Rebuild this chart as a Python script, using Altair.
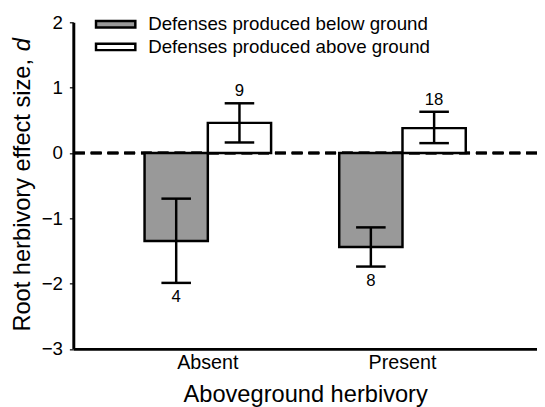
import altair as alt
import pandas as pd

BELOW = "Defenses produced below ground"
ABOVE = "Defenses produced above ground"

groups = ["Absent", "Absent", "Present", "Present"]
series = [BELOW, ABOVE, BELOW, ABOVE]
means = [-1.35, 0.46, -1.44, 0.38]
lower = [-1.99, 0.16, -1.74, 0.15]
upper = [-0.70, 0.76, -1.14, 0.63]
counts = ["4", "9", "8", "18"]
y_ticks = [-3, -2, -1, 0, 1, 2]

df = pd.DataFrame({
    "group": groups, "series": series, "mean": means,
    "lo": lower, "hi": upper, "n": counts,
})

FONT = "Liberation Sans"

x_enc = alt.X("group:N", sort=["Absent", "Present"],
              scale=alt.Scale(paddingInner=0.35, paddingOuter=0.366),
              axis=alt.Axis(title="Aboveground herbivory", labelAngle=0, ticks=False,
                            labelFontSize=20, labelPadding=4, labelColor="black",
                            labelFont=FONT, titleFont=FONT, titleFontSize=24,
                            titleFontWeight="normal", titleColor="black", titlePadding=10,
                            domainColor="black", domainWidth=3))
xo_enc = alt.XOffset("series:N", sort=[BELOW, ABOVE],
                     scale=alt.Scale(paddingInner=0, paddingOuter=0))
y_scale = alt.Scale(domain=[-3, 2], nice=False, zero=False)
y_axis = alt.Axis(values=y_ticks, format="d", title="Root herbivory effect size,", grid=False,
                  labelFontSize=19, labelFont=FONT, labelColor="black", labelPadding=7,
                  tickSize=4, tickWidth=1.2, tickColor="black",
                  domainColor="black", domainWidth=3,
                  titleFont=FONT, titleFontSize=24, titleFontWeight="normal",
                  titleColor="black", titleAngle=270, titleAlign="left",
                  titleBaseline="alphabetic", titleX=-44, titleY=313.5)

base = alt.Chart(df)

zero = base.mark_rule(strokeDash=[11, 6], strokeWidth=2.5, color="black").encode(
    y=alt.datum(0, scale=y_scale, axis=y_axis, type="quantitative")
)

bars = base.mark_bar(stroke="black", strokeWidth=2.5).encode(
    x=x_enc, xOffset=xo_enc,
    y=alt.Y("mean:Q", scale=y_scale, axis=y_axis),
    y2=alt.datum(0),
    fill=alt.Fill("series:N", scale=alt.Scale(domain=[BELOW, ABOVE], range=["#999999", "white"]),
                  legend=alt.Legend(title=None, orient="none", legendX=31, legendY=-10,
                                    symbolType="M-1.9,-0.31L1.9,-0.31L1.9,0.31L-1.9,0.31Z",
                                    symbolSize=441, symbolStrokeColor="black",
                                    symbolStrokeWidth=2.5, symbolOpacity=1,
                                    labelFont=FONT, labelFontSize=19, labelColor="black",
                                    labelOffset=21, rowPadding=1, padding=0, labelLimit=400)),
)

err = base.mark_rule(strokeWidth=2.5, color="black").encode(
    x=x_enc, xOffset=xo_enc, y="lo:Q", y2="hi:Q"
)
cap_lo = base.mark_tick(thickness=2.5, size=30, color="black", opacity=1).encode(
    x=x_enc, xOffset=xo_enc, y="lo:Q"
)
cap_hi = base.mark_tick(thickness=2.5, size=30, color="black", opacity=1).encode(
    x=x_enc, xOffset=xo_enc, y="hi:Q"
)

txt_above = base.transform_filter(alt.datum.mean >= 0).mark_text(
    baseline="alphabetic", dy=-7, fontSize=17, font=FONT, color="black"
).encode(x=x_enc, xOffset=xo_enc, y="hi:Q", text="n:N")
txt_below = base.transform_filter(alt.datum.mean < 0).mark_text(
    baseline="alphabetic", dy=19.5, fontSize=17, font=FONT, color="black"
).encode(x=x_enc, xOffset=xo_enc, y="lo:Q", text="n:N")

d_italic = alt.Chart(pd.DataFrame({"t": ["d"]})).mark_text(
    angle=270, align="left", baseline="alphabetic", fontStyle="italic",
    fontSize=24, font=FONT, color="black"
).encode(x=alt.value(-44), y=alt.value(29.4), text="t:N")

chart = alt.layer(zero, bars, err, cap_lo, cap_hi, txt_above, txt_below, d_italic).properties(
    width=470.7, height=331.5,
    autosize=alt.AutoSizeParams(type="none"),
    padding={"left": 66.3, "top": 11.5, "right": 0, "bottom": 56},
).configure_view(stroke=None)

chart.save("out.html", embed_options={"renderer": "svg", "actions": False})
